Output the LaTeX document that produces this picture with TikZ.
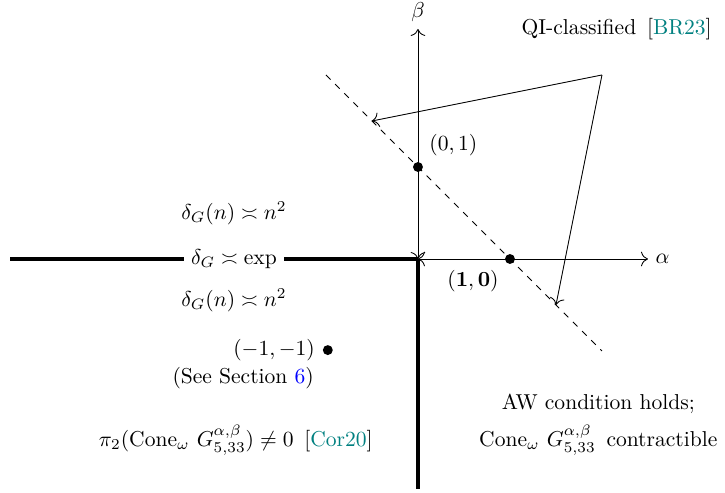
\documentclass[tikz,border=0pt]{standalone}
\usepackage{amsmath,amssymb}
\usepackage{xcolor}
\usepackage{tikz}
\usetikzlibrary{arrows.meta,positioning}
\definecolor{citeteal}{HTML}{008080}
\definecolor{seclink}{HTML}{0000FF}
\DeclareMathOperator{\Cone}{Cone}

\begin{document}
\begin{tikzpicture}[x=1.5cm,y=1.5cm,>={To[scale=1.3]}]
  \tikzset{regime/.style={line width=2.2pt},
    dot/.style={circle,fill,inner sep=0pt,minimum size=4.6pt}}
  \useasboundingbox (-4.543,-2.533) rectangle (3.337,2.815);
  \coordinate (o) at (0,0);
  % thick boundary
  \draw[regime] (-4.43,0) -- (o);
  \draw[regime] (o) -- (0,-2.5);
  \node[fill=white] (expl) at (-2,0) {$\delta_G \asymp \exp$};
  % axes
  \draw[<->] (o) -- (2.5,0) node[right] (alab) {$\alpha$};
  \draw[<->] (o) -- (0,2.5) node[above] (blab) {$\beta$};
  \draw[dashed] (-1,2) -- (2,-1);
  \node[dot] (p01) at (0,1) {};
  \node[dot] (p10) at (1,0) {};
  \node[dot] (pmm) at (-0.98,-0.99) {};
  \node[above right=0pt of p01] (l01) {$(0,1)$};
  \node[below left=0pt of p10] (l10) {$\mathbf{(1,0)}$};
  \node[left=0pt of pmm] (lmm) {$(-1,-1)$};
  \node (sec) at (-1.9,-1.3) {(See Section \textcolor{seclink}{6})};
  \node (quadup) at (-2,0.5) {$\delta_G(n) \asymp n^2$};
  \node (quaddn) at (-2,-0.45) {$\delta_G(n) \asymp n^2$};
  \node (pitwo) at (-1.98,-1.97) {$\pi_2(\Cone_\omega\, G^{\alpha,\beta}_{5,33}) \neq 0$ \,[\textcolor{citeteal}{Cor20}]};
  \node[align=center] (aw) at (1.96,-1.8) {AW condition holds;\\[5pt]$\Cone_\omega\, G^{\alpha,\beta}_{5,33}$\, contractible};
  % QI pointers
  \node (qi) at (2.16,2.5) {QI-classified \,[\textcolor{citeteal}{BR23}]};
  \coordinate (qifoot) at (2,2);
  \coordinate (qia) at (-0.5,1.5);
  \coordinate (qib) at (1.5,-0.5);
  \draw[->] (qifoot) -- (qia);
  \draw[->] (qifoot) -- (qib);
\end{tikzpicture}
\end{document}
